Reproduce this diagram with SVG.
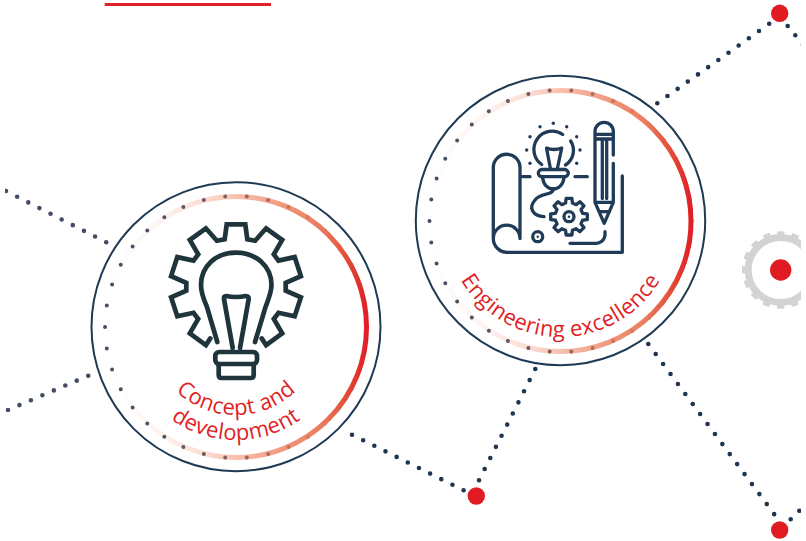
<svg xmlns="http://www.w3.org/2000/svg" width="806" height="541" viewBox="0 0 806 541">
<style>
.dot{fill:none;stroke:#1f3550;stroke-width:4.6;stroke-linecap:round;stroke-dasharray:0 .999}
.dotl{stroke:#434e66}
.outer{fill:none;stroke:#1e3a55;stroke-width:2}
.rdots{fill:none;stroke:#434e66;stroke-width:4;stroke-linecap:round;stroke-dasharray:0 1}
.ring{fill:none;stroke:url(#ringGrad);stroke-width:5}
.red{fill:#e11b22}
.lab{font-family:"Open Sans","Noto Sans",sans-serif;font-size:22px;letter-spacing:.3px;fill:#e11f26;text-anchor:middle}
.ic1{fill:none;stroke:#20343c;stroke-width:4.7;stroke-linejoin:miter;stroke-linecap:round}
.ic2{fill:none;stroke:#1f3b57;stroke-width:3.3;stroke-linejoin:round;stroke-linecap:round}
.ic2f{fill:#1f3b57}
</style>
<defs>
<clipPath id="page"><rect x="5" y="0" width="796" height="541"/></clipPath>
<linearGradient id="ringGrad" x1="0" y1="0" x2="1" y2="0">
<stop offset="0" stop-color="#ef7a52" stop-opacity="0"/>
<stop offset=".2" stop-color="#ef7a52" stop-opacity=".08"/>
<stop offset=".37" stop-color="#ef7a52" stop-opacity=".25"/>
<stop offset=".5" stop-color="#ef7a52" stop-opacity=".47"/>
<stop offset=".7" stop-color="#ec7a58" stop-opacity=".8"/>
<stop offset=".83" stop-color="#e97b5d"/>
<stop offset=".92" stop-color="#e34f38"/>
<stop offset="1" stop-color="#e01f26"/>
</linearGradient>
<path id="arcA" d="M148,327A88,88 0 0 0 324,327"/>
<path id="arcB" d="M123,327A113,113 0 0 0 349,327"/>
<path id="arcC" d="M444.5,221A116,116 0 0 0 676.5,221"/>
</defs>
<g clip-path="url(#page)">
<rect id="topbar" x="104.7" y="3" width="166.3" height="3" fill="#e1202a"/>
<g id="connectors">
<path class="dot" pathLength="11" d="M657.3,103.3L769.3,23.7"/>
<path class="dot" pathLength="2" d="M787.7,26L795.3,35.3L803,44.6"/>
<path class="dot" pathLength="17" d="M648.3,344L774.3,514.3"/>
<path class="dot" pathLength="1" d="M790.7,519.3L799.3,510.7"/>
<path class="dot" pathLength="10" d="M535.3,369L479,480.3"/>
<path class="dot" pathLength="10" d="M352,434.7L463.7,490.3"/>
<path class="dot dotl" pathLength="9" d="M6,191L106.3,242.3"/>
<path class="dot dotl" pathLength="7" d="M8,410L88.3,375.7"/>
</g>
<g id="node-concept">
<circle class="outer" cx="236" cy="326.7" r="144.5"/>
<circle class="rdots" cx="236" cy="327" r="131" pathLength="38" transform="rotate(180 236 327)"/>
<circle class="ring" cx="236" cy="327" r="130.5"/>
<g transform="translate(236,286.7)">
<path class="ic1" d="M-25.7,51.7L-30.1,58.4L-46.2,46.7L-37.8,32.3L-42.5,26.1L-58.7,29.6L-64.9,10.6L-49.7,3.9L-49.7,-3.9L-64.9,-10.6L-58.7,-29.6L-42.5,-26.1L-37.8,-32.3L-46.2,-46.7L-30.1,-58.4L-19.1,-46L-11.3,-47.5L-9.3,-62.3L9.3,-62.3L11.3,-47.5L19.1,-46L30.1,-58.4L46.2,-46.7L37.8,-32.3L42.5,-26.1L58.7,-29.6L64.9,-10.6L49.7,-3.9L49.7,3.9L64.9,10.6L58.7,29.6L42.5,26.1L37.8,32.3L46.2,46.7L30.1,58.4L25.7,51.7"/>
</g>
<path class="ic1" d="M217.3,342L207,307C203,298 201,292 201,285C201,266 216,252.7 236,252.7C256,252.7 271.5,266 271.5,285C271.5,292 269,298 265.5,307L255,342"/>
<path class="ic1" stroke-linejoin="round" d="M232.7,348L224,299Q223.5,296 226,296Q236,298 246,296Q249,296 248.7,299L240,348"/>
<rect class="ic1" x="215.3" y="352" width="41.7" height="12" rx="4"/>
<path class="ic1" d="M218.7,365V375Q218.7,378 221.7,378H250.7Q253.7,378 253.7,375V365"/>
<text class="lab"><textPath href="#arcA" startOffset="50%">Concept and</textPath></text>
<text class="lab"><textPath href="#arcB" startOffset="50%">development</textPath></text>
</g>
<g id="node-engineering">
<circle class="outer" cx="560.5" cy="220.5" r="144.7"/>
<circle class="rdots" cx="560.5" cy="221" r="131" pathLength="38" transform="rotate(180 560.5 221)"/>
<circle class="ring" cx="560.5" cy="221" r="130.5"/>
<path class="ic2" d="M520,238.5V167.6A13.3,13.3 0 0 0 493.3,167.6V238.5A13.8,13.8 0 0 0 507,252.3H622.3V176M493.3,238.5A13.3,13.3 0 0 1 520,238.5"/>
<path class="ic2" d="M521.7,176.7H530M575,176.7H587.3"/>
<path class="ic2" d="M562.7,134.5A17.5,17.5 0 0 0 541.7,164.5M570.7,141A17.5,17.5 0 0 1 565.5,165"/>
<path class="ic2" d="M550.3,168L546.5,148Q554,151 561.7,148L557.5,168"/>
<rect class="ic2" x="538.3" y="169.5" width="30" height="7.2" rx="3.6"/>
<path class="ic2" d="M542.7,178C543.5,185 548,189 553.3,189C558.5,189 563,185 564,178"/>
<path class="ic2" d="M553.3,189C553,196 541,192 535,200C528,208 533,216 544,216.7"/>
<g class="ic2f">
<circle cx="540" cy="126.7" r="1.7"/><circle cx="553.3" cy="123.3" r="1.7"/><circle cx="566.7" cy="126.7" r="1.7"/>
<circle cx="576.7" cy="136.7" r="1.7"/><circle cx="580" cy="150" r="1.7"/><circle cx="576.7" cy="163.3" r="1.7"/>
<circle cx="530" cy="136.7" r="1.7"/><circle cx="526.7" cy="150" r="1.7"/><circle cx="530" cy="163.3" r="1.7"/>
<circle cx="537.7" cy="236.7" r="1.2"/><circle cx="569" cy="216.7" r="1.3"/>
</g>
<path class="ic2" d="M613.3,155V131.5A9.15,9.15 0 0 0 595,131.5V202.3L604.2,223.3L613.3,202.3V163.3M595,134.3H613.3M595,139H613.3M602.3,139V198.5M606.7,139V198.5M595,202.3H613.3M599,211.7H609.5"/>
<path class="ic2" d="M570,243.3H595A9,9 0 0 0 605,235V231.7"/>
<circle class="ic2" cx="537.7" cy="236.7" r="5"/>
<circle class="ic2" cx="569" cy="216.7" r="5"/>
<g transform="translate(569,216.7)">
<path class="ic2" d="M-3.4,-13.6L-2.9,-18.3L2.9,-18.3L3.4,-13.6L7.2,-12L10.9,-15L15,-10.9L12,-7.2L13.6,-3.4L18.3,-2.9L18.3,2.9L13.6,3.4L12,7.2L15,10.9L10.9,15L7.2,12L3.4,13.6L2.9,18.3L-2.9,18.3L-3.4,13.6L-7.2,12L-10.9,15L-15,10.9L-12,7.2L-13.6,3.4L-18.3,2.9L-18.3,-2.9L-13.6,-3.4L-12,-7.2L-15,-10.9L-10.9,-15L-7.2,-12Z"/>
</g>
<text class="lab"><textPath href="#arcC" startOffset="50%">Engineering excellence</textPath></text>
</g>
<g id="node-gear">
<circle cx="780.7" cy="270" r="32.5" fill="none" stroke="#d1d3d4" stroke-width="7"/>
<circle cx="780.7" cy="270" r="36.5" fill="none" stroke="#d1d3d4" stroke-width="4.5" stroke-dasharray="7.2 7.13" stroke-dashoffset="3.6"/>
<circle class="red" cx="780.7" cy="270" r="10.7"/>
</g>
<circle id="node-dot-top" class="red" cx="779.7" cy="13.3" r="8.7"/>
<circle id="node-dot-bottom" class="red" cx="779.7" cy="530" r="8.7"/>
<circle id="node-dot-mid" class="red" cx="476.3" cy="496" r="8.7"/>
</g>
</svg>
